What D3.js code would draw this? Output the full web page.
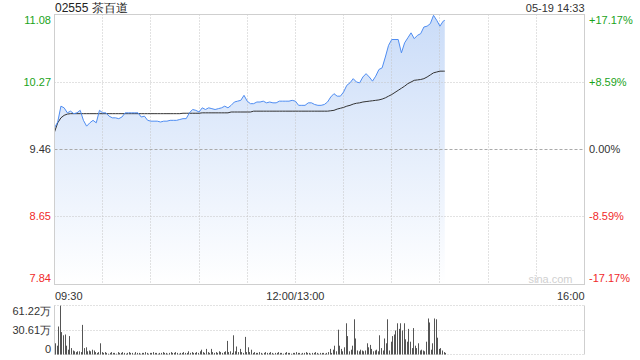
<!DOCTYPE html>
<html>
<head>
<meta charset="utf-8">
<script src="https://cdn.jsdelivr.net/npm/d3@7"></script>
<style>
  body { margin: 0; background: #fff; }
  text { font-family: "Liberation Sans", Arial, sans-serif; }
</style>
</head>
<body>
<div id="container"></div>
<script>
var stockName = "02555 茶百道";
var stamp = "05-19 14:33";
var preClose = 9.46;
var priceTicks = [11.08, 10.27, 9.46, 8.65, 7.84];
var pctTicks = ["+17.17%", "+8.59%", "0.00%", "-8.59%", "-17.17%"];
var timeTicks = ["09:30", "12:00/13:00", "16:00"];
var volTicks = ["61.22万", "30.61万", "0"];
var volMax = 61.22;
var sessionMinutes = 330;

// price sampled every 2 minutes from 09:30, last point at 14:33
var prices = [
  9.72, 9.79, 9.98, 9.96, 9.90, 9.92, 9.89, 9.90, 9.93, 9.81,
  9.74, 9.78, 9.81, 9.78, 9.93, 9.90, 9.90, 9.86, 9.84, 9.84,
  9.83, 9.85, 9.90, 9.90, 9.90, 9.90, 9.90, 9.85, 9.86, 9.81,
  9.80, 9.80, 9.80, 9.79, 9.80, 9.80, 9.81, 9.81, 9.81, 9.82,
  9.83, 9.83, 9.90, 9.94, 9.93, 9.91, 9.96, 9.94, 9.96, 9.95,
  9.94, 9.95, 9.96, 9.98, 9.96, 9.99, 10.03, 10.04, 10.05, 10.11,
  10.04, 10.01, 10.01, 10.03, 10.03, 10.04, 10.02, 10.03, 10.02, 10.02,
  10.04, 10.04, 10.04, 10.04, 10.05, 10.04, 9.99, 9.99, 9.99, 10.02,
  10.02, 10.00, 9.99, 9.99, 10.00, 10.03, 10.09, 10.13, 10.10, 10.10,
  10.15, 10.23, 10.26, 10.31, 10.27, 10.26, 10.33, 10.37, 10.33, 10.28,
  10.34, 10.42, 10.44, 10.57, 10.71, 10.78, 10.78, 10.78, 10.62, 10.74,
  10.80, 10.86, 10.79, 10.83, 10.85, 10.93, 10.94, 10.97, 11.07, 11.01,
  10.94, 11.00, 11.01
];

var avgPrices = [
  9.67, 9.78, 9.84, 9.87, 9.885, 9.89, 9.89, 9.89, 9.89, 9.89,
  9.89, 9.89, 9.89, 9.89, 9.89, 9.89, 9.89, 9.89, 9.89, 9.89,
  9.89, 9.89, 9.89, 9.89, 9.89, 9.89, 9.89, 9.89, 9.89, 9.89,
  9.89, 9.89, 9.89, 9.89, 9.89, 9.89, 9.89, 9.89, 9.89, 9.89,
  9.895, 9.895, 9.895, 9.895, 9.895, 9.895, 9.90, 9.90, 9.90, 9.90,
  9.90, 9.90, 9.90, 9.90, 9.90, 9.91, 9.91, 9.91, 9.91, 9.91,
  9.91, 9.91, 9.92, 9.92, 9.92, 9.92, 9.92, 9.92, 9.92, 9.92,
  9.92, 9.92, 9.92, 9.92, 9.92, 9.92, 9.92, 9.92, 9.92, 9.92,
  9.92, 9.92, 9.92, 9.92, 9.92, 9.92, 9.925, 9.93, 9.945, 9.955,
  9.965, 9.98, 9.99, 10.005, 10.015, 10.02, 10.03, 10.035, 10.04, 10.045,
  10.05, 10.055, 10.065, 10.08, 10.10, 10.12, 10.145, 10.17, 10.195, 10.22,
  10.25, 10.27, 10.29, 10.295, 10.30, 10.31, 10.33, 10.355, 10.38, 10.39,
  10.40, 10.40, 10.40
];

// volume per minute, in 万
var volumes = [
  14, 11, 35, 61, 28, 24, 25, 11, 6, 23,
  8, 5, 4, 3, 4, 4, 3, 37, 8, 9,
  4, 5, 4, 6, 5, 3, 2, 3, 14, 3,
  2, 3, 2, 1, 2, 3, 2, 2, 1, 3,
  2, 2, 3, 2, 1, 2, 3, 2, 2, 1,
  3, 2, 2, 1, 2, 2, 3, 2, 1, 2,
  2, 3, 2, 2, 1, 2, 2, 3, 2, 2,
  1, 2, 3, 2, 2, 3, 2, 1, 2, 2,
  3, 2, 2, 4, 2, 3, 2, 2, 3, 2,
  4, 6, 3, 2, 7, 3, 2, 7, 3, 2,
  3, 2, 4, 3, 2, 3, 4, 17, 3, 4,
  2, 24, 4, 10, 3, 7, 3, 2, 22, 3,
  9, 3, 6, 2, 3, 2, 2, 3, 2, 1,
  2, 3, 2, 2, 3, 2, 1, 2, 2, 3,
  2, 2, 1, 2, 3, 2, 2, 1, 2, 2,
  3, 2, 2, 1, 2, 2, 3, 2, 2, 1,
  2, 2, 3, 2, 1, 2, 2, 2, 1, 2,
  3, 7, 2, 6, 11, 4, 31, 11, 7, 4,
  9, 39, 23, 4, 6, 11, 44, 20, 5, 4,
  6, 5, 4, 5, 14, 9, 12, 7, 4, 5,
  6, 4, 24, 8, 5, 20, 14, 44, 5, 16,
  23, 25, 30, 39, 32, 39, 30, 39, 19, 16,
  32, 16, 8, 33, 11, 8, 14, 5, 6, 5,
  4, 16, 45, 40, 6, 14, 45, 44, 21, 7,
  8, 5, 3, 2
];

var priceMinutes = d3.range(0, 243, 2).concat([243]);

var W = 640, H = 360;
var plotL = 54.5, plotR = 584.5, plotT = 14.5, plotB = 284.5;
var volT = 305.5, volB = 354.5;

var svg = d3.select("#container")
  .append("svg")
    .attr("width", W)
    .attr("height", H);

var x = d3.scaleLinear().domain([0, sessionMinutes]).range([plotL, plotR]);
var y = d3.scaleLinear().domain([priceTicks[4], priceTicks[0]]).range([plotB, plotT]);
var vy = d3.scaleLinear().domain([0, volMax]).range([volB, volT]);

function crisp(v) { return Math.round(v - 0.5) + 0.5; }

var green = "#1aa31a", red = "#f02a2a", grey = "#333";
function tickColor(i) { return i < 2 ? green : (i > 2 ? red : grey); }

// gradient for area
var defs = svg.append("defs");
var grad = defs.append("linearGradient")
  .attr("id", "fillGrad")
  .attr("gradientUnits", "userSpaceOnUse")
  .attr("x1", 0).attr("y1", plotT).attr("x2", 0).attr("y2", plotB);
grad.append("stop").attr("offset", "0%").attr("stop-color", "#cadcf8");
grad.append("stop").attr("offset", "100%").attr("stop-color", "#ffffff");

// area first, grid drawn over it
var area = d3.area()
  .x(function (d, i) { return x(priceMinutes[i]); })
  .y0(plotB)
  .y1(function (d) { return y(d); });

svg.append("path")
  .datum(prices)
  .attr("d", area)
  .attr("fill", "url(#fillGrad)");

// vertical grid
var gridMinutes = d3.range(30, sessionMinutes, 30);
svg.append("g").selectAll("line")
  .data(gridMinutes)
  .enter().append("line")
    .attr("x1", function (d) { return crisp(x(d)); })
    .attr("x2", function (d) { return crisp(x(d)); })
    .attr("y1", plotT).attr("y2", plotB)
    .attr("stroke", "#c4c4c4")
    .attr("stroke-dasharray", "1,2");

// horizontal grid
svg.append("g").selectAll("line")
  .data(priceTicks.slice(1, 4))
  .enter().append("line")
    .attr("x1", plotL).attr("x2", plotR)
    .attr("y1", function (d) { return crisp(y(d)); })
    .attr("y2", function (d) { return crisp(y(d)); })
    .attr("stroke", function (d) { return d === preClose ? "#aaa" : "#c4c4c4"; })
    .attr("stroke-dasharray", function (d) { return d === preClose ? "3,2" : "1,2"; });

svg.append("path")
  .datum(avgPrices)
  .attr("d", d3.line()
    .x(function (d, i) { return x(priceMinutes[i]); })
    .y(function (d) { return y(d); }))
  .attr("fill", "none")
  .attr("stroke", "#333")
  .attr("stroke-width", 1);

svg.append("path")
  .datum(prices)
  .attr("d", d3.line()
    .x(function (d, i) { return x(priceMinutes[i]); })
    .y(function (d) { return y(d); }))
  .attr("fill", "none")
  .attr("stroke", "#4f8df2")
  .attr("stroke-width", 1);

// frame
svg.append("rect")
  .attr("x", plotL).attr("y", plotT)
  .attr("width", plotR - plotL).attr("height", plotB - plotT)
  .attr("fill", "none")
  .attr("stroke", "#cfcfcf");

// watermark
svg.append("text")
  .attr("x", plotR - 12).attr("y", plotB - 2)
  .attr("text-anchor", "end")
  .attr("font-size", 11)
  .attr("fill", "#d0d0d0")
  .text("sina.com");

// y labels
var labelY = function (i) {
  var p = crisp(y(priceTicks[i]));
  if (i === 0) return p + 6;
  if (i === priceTicks.length - 1) return p - 6;
  return p;
};
svg.append("g").selectAll("text")
  .data(priceTicks)
  .enter().append("text")
    .attr("x", 51)
    .attr("y", function (d, i) { return labelY(i); })
    .attr("dy", "0.35em")
    .attr("text-anchor", "end")
    .attr("font-size", 11)
    .attr("fill", function (d, i) { return tickColor(i); })
    .text(function (d) { return d.toFixed(2); });

svg.append("g").selectAll("text")
  .data(pctTicks)
  .enter().append("text")
    .attr("x", 589)
    .attr("y", function (d, i) { return labelY(i); })
    .attr("dy", "0.35em")
    .attr("text-anchor", "start")
    .attr("font-size", 11)
    .attr("fill", function (d, i) { return tickColor(i); })
    .text(function (d) { return d; });

// time labels
var timePos = [0, 150, sessionMinutes];
var timeAnchor = ["start", "middle", "end"];
svg.append("g").selectAll("text")
  .data(timeTicks)
  .enter().append("text")
    .attr("x", function (d, i) { return x(timePos[i]) + (i === 0 ? 0.5 : 0); })
    .attr("y", 300)
    .attr("text-anchor", function (d, i) { return timeAnchor[i]; })
    .attr("font-size", 11)
    .attr("fill", "#333")
    .text(function (d) { return d; });

// title
svg.append("text")
  .attr("x", 55).attr("y", 12)
  .attr("font-size", 12)
  .attr("fill", "#222")
  .text(stockName);
svg.append("text")
  .attr("x", plotR).attr("y", 12)
  .attr("text-anchor", "end")
  .attr("font-size", 11)
  .attr("fill", "#333")
  .text(stamp);

// volume panel
var vGrid = [volMax, volMax / 2, 0];
svg.append("g").selectAll("line")
  .data(vGrid)
  .enter().append("line")
    .attr("x1", plotL).attr("x2", plotR)
    .attr("y1", function (d) { return crisp(vy(d)); })
    .attr("y2", function (d) { return crisp(vy(d)); })
    .attr("stroke", "#c4c4c4")
    .attr("stroke-dasharray", "1,2");
svg.append("line")
  .attr("x1", plotL).attr("x2", plotL).attr("y1", volT).attr("y2", volB)
  .attr("stroke", "#cfcfcf");
svg.append("line")
  .attr("x1", plotR).attr("x2", plotR).attr("y1", volT).attr("y2", volB)
  .attr("stroke", "#cfcfcf");

svg.append("g").selectAll("rect")
  .data(volumes)
  .enter().append("rect")
    .attr("x", function (d, i) { return Math.floor(x(i)) + 1; })
    .attr("y", function (d) { return vy(d); })
    .attr("width", 1)
    .attr("height", function (d) { return vy(0) - vy(d); })
    .attr("fill", "#555");

var vLabelY = [volT + 6, crisp(vy(volMax / 2)), volB - 5];
svg.append("g").selectAll("text")
  .data(volTicks)
  .enter().append("text")
    .attr("x", 51)
    .attr("y", function (d, i) { return vLabelY[i]; })
    .attr("dy", "0.35em")
    .attr("text-anchor", "end")
    .attr("font-size", 11)
    .attr("fill", "#333")
    .text(function (d) { return d; });
</script>
</body>
</html>
